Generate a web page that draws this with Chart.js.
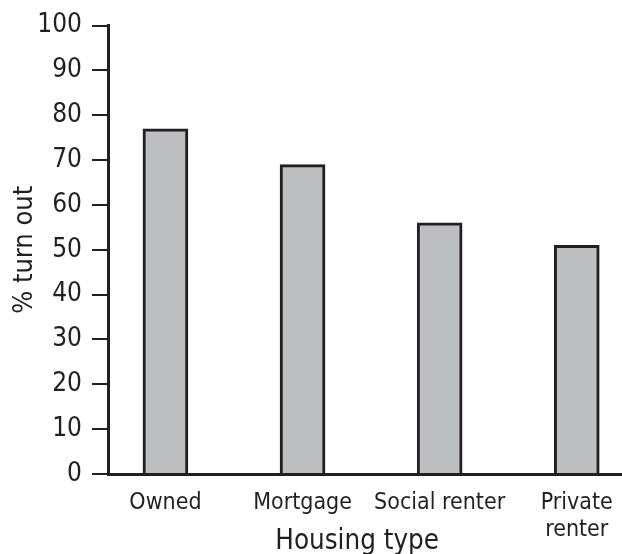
<!DOCTYPE html>
<html>
<head>
<meta charset="utf-8">
<script src="https://cdn.jsdelivr.net/npm/chart.js@4/dist/chart.umd.min.js"></script>
<style>
  html, body { margin: 0; padding: 0; background: #fff; }
  #wrap { width: 622px; height: 554px; }
</style>
</head>
<body>
<div id="wrap"><canvas id="graph" width="622" height="554"></canvas></div>
<script>
const categories = [['Owned'], ['Mortgage'], ['Social renter'], ['Private', 'renter']];
const turnout = [77, 69, 56, 51];
const yTicks = [0, 10, 20, 30, 40, 50, 60, 70, 80, 90, 100];

const ink = '#231f20';
const font = "'DejaVu Sans Condensed'";
const xMin = -0.419;

var points = [];
for (let i = 0; i < turnout.length; i++) {
  points.push({x: i, y: turnout[i]});
}

const ctx = document.getElementById('graph');

var graph = new Chart(ctx, {
  type: 'bar',
  data: {
    datasets: [{
      data: points,
      backgroundColor: '#bcbec0',
      borderColor: ink,
      borderWidth: 3,
      barThickness: 45
    }]
  },
  options: {
    responsive: false,
    animation: false,
    layout: { padding: { top: 20, right: 0, left: 0, bottom: 0 } },
    plugins: {
      legend: { display: false },
      tooltip: { enabled: false }
    },
    scales: {
      x: {
        type: 'linear',
        offset: false,
        min: xMin,
        max: 3.33,
        afterBuildTicks: function(scale) {
          // extra tick at the left end so the y axis pokes below the x axis
          scale.ticks = [{ value: xMin }].concat(categories.map((c, i) => ({ value: i })));
        },
        afterFit: function(scale) { scale.height = 80; },
        grid: {
          display: true,
          drawOnChartArea: false,
          drawTicks: true,
          tickLength: 9,
          lineWidth: 3,
          color: function(c) { return c.index === 0 ? ink : 'rgba(0,0,0,0)'; }
        },
        border: { display: true, color: ink, width: 3 },
        ticks: {
          color: ink,
          font: { family: font, size: 23 },
          padding: 6,
          maxRotation: 0,
          autoSkip: false,
          callback: function(v) { return Number.isInteger(v) ? categories[v] : ''; }
        },
        title: {
          display: true,
          text: 'Housing type  ',
          color: ink,
          font: { family: font, size: 27.5 },
          padding: { top: 0, bottom: -4 }
        }
      },
      y: {
        min: 0,
        max: 100,
        afterBuildTicks: function(scale) {
          scale.ticks = yTicks.map(v => ({ value: v }));
        },
        afterFit: function(scale) { scale.width = 108; },
        grid: {
          drawOnChartArea: false,
          drawTicks: true,
          tickLength: 16,
          color: ink,
          lineWidth: 2
        },
        border: { display: true, color: ink, width: 3 },
        ticks: {
          color: ink,
          font: { family: font, size: 26 },
          padding: 10
        },
        title: {
          display: true,
          text: '% turn out',
          color: ink,
          font: { family: font, size: 27 },
          padding: { top: 9, bottom: 0 }
        }
      }
    }
  }
});
</script>
</body>
</html>
